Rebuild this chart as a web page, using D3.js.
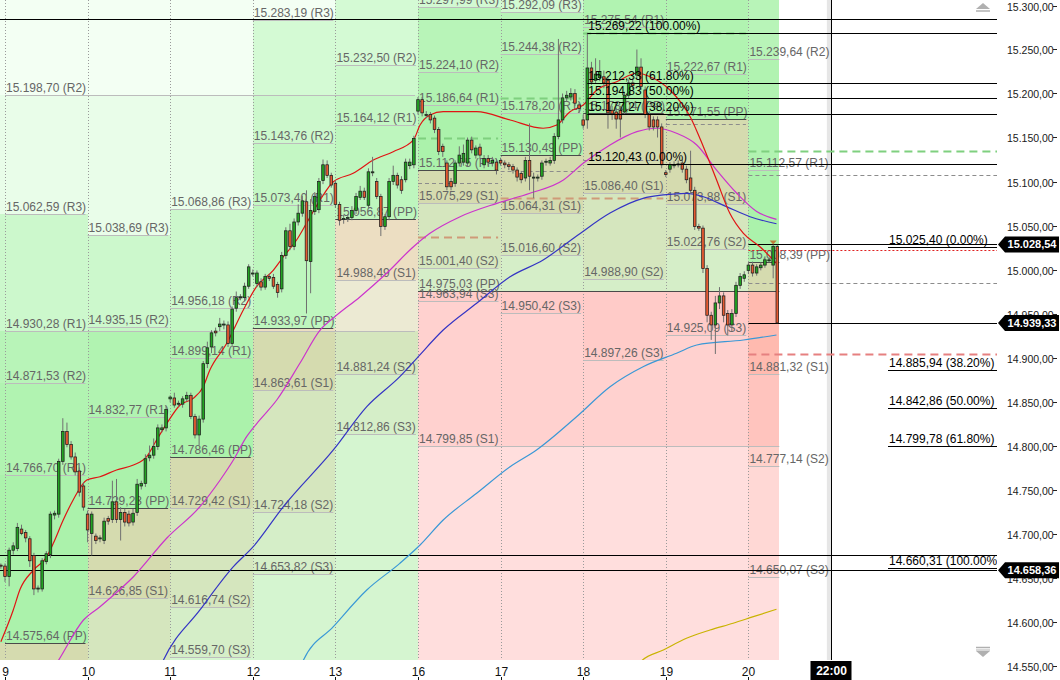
<!DOCTYPE html>
<html><head><meta charset="utf-8">
<script src="https://cdn.jsdelivr.net/npm/d3@7/dist/d3.min.js"></script>
<style>html,body{margin:0;padding:0;background:#fff;overflow:hidden}svg{display:block}text{font-family:"Liberation Sans",Arial,sans-serif}</style>
</head><body>
<svg id="chart" width="1060" height="680"></svg>
<script>
// ---------- DATA ----------
const dayLabels = ["9","10","11","12","13","16","17","18","19","20"];
const dayWeek   = [0,0,0,0,0,1,1,1,1,1];
const dailyPP = [14575.64,14729.23,14786.46,14933.97,15056.87,15112.75,15130.49,15178.04,15171.55,15008.39];
const dailyR1 = [14766.70,14832.77,14899.14,15073.40,15164.12,15186.64,15178.20,15275.54,15222.67,15112.57];
const dailyR2 = [14871.53,14935.15,14956.18,15143.76,15232.50,15224.10,15244.38,15367.18,15320.34,15239.64];
const dailyR3 = [15062.59,15038.69,15068.86,15283.19,15339.75,15297.99,15292.09,15464.66,15371.46,15343.82];
const dailyS1 = [14470.81,14626.85,14729.42,14863.61,14988.49,15075.29,15064.31,15086.40,15073.88,14881.32];
const dailyS2 = [14279.75,14523.31,14616.74,14724.18,14881.24,15001.40,15016.60,14988.90,15022.76,14777.14];
const dailyS3 = [14174.92,14420.93,14559.70,14653.82,14812.86,14963.94,14950.42,14897.26,14925.09,14650.07];

const weekStartDay = [0,5];
const weekEndDay   = [4,9];
const weekPP = [14420.00,14975.03];
const weekR1 = [14930.28,15320.06];
const weekR2 = [15198.70,15495.27];
const weekR3 = [15708.98,15840.45];
const weekS1 = [14141.72,14799.85];
const weekS2 = [13641.30,14454.82];
const weekS3 = [13362.44,14279.64];

// hourly candles [open, high, low, close], first bar index -1
const firstBar = -1;
const candles = [
[14664,14666,14660,14663],
[14663,14666,14645,14651],[14651,14684,14640,14681],[14681,14690,14676,14686],[14683,14712,14680,14707],[14705,14710,14698,14700],
[14701,14704,14690,14695],[14694,14697,14662,14669],[14675,14678,14630,14637],[14637,14641,14633,14638],[14637,14672,14634,14669],
[14668,14680,14665,14677],[14676,14725,14672,14722],[14721,14726,14716,14723],[14722,14785,14718,14782],[14782,14831,14778,14816],
[14816,14826,14798,14801],[14801,14805,14784,14787],[14787,14792,14766,14770],[14771,14775,14742,14747],[14754,14758,14726,14730],
[14722,14726,14690,14704],[14700,14725,14675,14722],[14697,14700,14688,14692],[14695,14698,14690,14695],[14692,14718,14688,14714],
[14717,14720,14710,14714],[14716,14760,14712,14736],[14736,14762,14712,14716],[14716,14730,14692,14724],[14724,14728,14708,14713],
[14722,14726,14708,14712],[14713,14728,14709,14723],[14724,14762,14720,14756],[14754,14760,14750,14757],[14757,14790,14753,14785],
[14786,14800,14782,14789],[14789,14808,14785,14799],[14799,14824,14795,14820],[14818,14824,14815,14820],[14820,14845,14816,14841],
[14853,14857,14849,14855],[14854,14860,14843,14846],[14847,14851,14844,14848],[14847,14856,14843,14853],[14853,14861,14850,14857],
[14857,14860,14830,14833],[14833,14836,14808,14812],[14812,14834,14800,14830],[14830,14896,14826,14893],[14893,14918,14888,14911],
[14912,14931,14905,14928],[14930,14934,14924,14928],[14935,14945,14930,14938],[14937,14942,14932,14938],[14937,14941,14912,14916],
[14916,14958,14912,14955],[14956,14975,14952,14968],[14969,14972,14965,14969],[14968,14985,14964,14981],[14981,15006,14978,15003],
[14996,15000,14992,14996],[14984,14999,14980,14996],[14986,14990,14976,14980],[14980,14995,14977,14992],[14992,14995,14987,14990],
[14991,14995,14978,14981],[14983,14986,14968,14974],[14978,15020,14974,15016],[15016,15048,15012,15044],[15044,15052,15022,15026],
[15026,15058,15022,15054],[15054,15074,15050,15064],[15064,15084,15060,15078],[15077,15090,14950,15010],[15009,15080,14973,15067],
[15066,15088,15062,15083],[15068,15104,15064,15100],[15101,15125,15097,15119],[15119,15124,15104,15107],[15107,15110,15093,15096],
[15098,15101,15070,15074],[15074,15077,15050,15056],[15057,15062,15052,15058],[15058,15063,15054,15059],[15059,15072,15056,15067],
[15067,15087,15063,15083],[15082,15095,15079,15089],[15089,15093,15079,15082],[15073,15115,15070,15111],[15110,15128,15106,15111],
[15100,15104,15080,15083],[15083,15086,15038,15049],[15049,15063,15045,15060],[15060,15104,15056,15100],[15100,15118,15096,15107],
[15107,15110,15092,15096],[15102,15106,15086,15090],[15102,15126,15099,15122],[15118,15126,15114,15122],[15119,15152,15115,15149],
[15180,15196,15176,15193],[15193,15196,15174,15178],[15176,15180,15172,15176],[15176,15179,15166,15170],[15172,15175,15155,15159],
[15159,15162,15130,15134],[15140,15143,15128,15134],[15121,15124,15090,15094],[15100,15104,15090,15094],[15098,15124,15094,15121],
[15121,15140,15117,15130],[15122,15142,15118,15132],[15121,15150,15117,15147],[15147,15151,15132,15136],[15130,15141,15126,15138],
[15139,15143,15126,15130],[15119,15130,15115,15126],[15126,15130,15118,15122],[15121,15128,15117,15124],[15122,15126,15108,15113],
[15124,15127,15118,15121],[15121,15124,15115,15119],[15119,15122,15113,15117],[15117,15120,15109,15113],[15113,15116,15100,15105],
[15109,15112,15098,15102],[15104,15128,15100,15124],[15124,15166,15090,15106],[15105,15110,15081,15105],[15105,15108,15100,15105],
[15106,15124,15102,15121],[15122,15126,15118,15123],[15121,15128,15118,15124],[15124,15155,15120,15151],[15151,15262,15148,15170],
[15170,15200,15166,15195],[15195,15203,15191,15198],[15196,15206,15192,15200],[15200,15205,15186,15189],[15187,15190,15178,15183],
[15170,15176,15160,15164],[15170,15269,15160,15229],[15229,15236,15210,15213],[15215,15240,15212,15222],[15218,15238,15214,15225],
[15219,15226,15206,15212],[15215,15220,15160,15178],[15181,15186,15170,15177],[15179,15184,15160,15171],[15181,15186,15150,15171],
[15179,15202,15176,15198],[15198,15216,15194,15212],[15212,15218,15205,15209],[15221,15250,15217,15230],[15230,15240,15204,15208],
[15204,15208,15172,15176],[15176,15180,15158,15162],[15170,15174,15158,15162],[15170,15174,15150,15162],[15162,15166,15115,15119],
[15110,15113,15105,15108],[15114,15122,15110,15119],[15119,15123,15115,15119],[15120,15124,15116,15120],[15121,15125,15110,15114],
[15114,15118,15098,15102],[15104,15135,15086,15090],[15090,15094,15045,15049],[15049,15052,15044,15047],[15047,15050,14996,15001],
[15001,15005,14940,14948],[14948,14952,14920,14937],[14937,14970,14904,14962],[14962,14980,14955,14970],[14970,14974,14940,14948],
[14950,14954,14925,14937],[14937,14955,14930,14950],[14950,14986,14946,14982],[14982,14996,14978,14992],[14990,14998,14986,14994],
[14999,15008,14995,15005],[15005,15009,14992,14996],[14996,15006,14993,15003],[15002,15008,14999,15005],[15005,15015,15002,15011],
[15011,15014,15008,15011],[15005,15028,14990,15026],[15026,15028,14939,14939.33]
];

// moving averages [bar, value]
const maRed = [[-1,14577],[2,14613],[3.6,14636],[6.9,14658.5],[10.1,14673.6],[11.7,14688.9],[14.1,14715.3],[16.5,14738.1],[19.8,14760.8],[23,14764.5],[27,14772.2],[31.1,14777.8],[34.3,14787.3],[36.7,14806.2],[39.2,14825.2],[42.4,14846],[45.6,14853.6],[48,14866.8],[49.6,14885.8],[53.7,14916.1],[57.7,14954],[60.9,14980.5],[65,14999.4],[67.4,15014.5],[70.6,15033.5],[73,15052.5],[76.3,15079],[79.5,15099.8],[84.3,15109.3],[89.2,15124.4],[94,15133.9],[98.9,15147.2],[100.5,15164.2],[102.9,15175.6],[106.1,15179.3],[114.2,15179.3],[122.3,15169.9],[130.3,15160.5],[133.6,15164.2],[136.8,15179.3],[140,15186.9],[143.3,15204],[148.1,15213.4],[153,15223],[156.2,15219.1],[161,15204],[165.9,15173.6],[169.1,15139.5],[172.3,15101.7],[175.5,15063.9],[178.8,15041.1],[182.8,15025.9],[186.8,15007]];
const maMagenta = [[10,14535],[12.9,14555.5],[19,14601.7],[23,14616.8],[25.4,14626.4],[31.1,14650.9],[39.2,14694.9],[47.2,14730.5],[52.1,14760.8],[55.3,14783.5],[58.5,14810],[61.7,14829],[65.8,14851.7],[71.4,14893.4],[76.3,14931.2],[79.5,14944.9],[86,14969.1],[92.4,14995.7],[98.9,15025.9],[102.9,15041.1],[110.2,15060],[119.1,15075.2],[127.1,15086.6],[135.2,15101.7],[140,15120.7],[146.5,15141.5],[153,15156.6],[157.8,15160.5],[162.6,15154.8],[167.5,15141.5],[172.3,15113],[177.2,15086.6],[182,15066],[186.8,15057]];
const maBlue = [[36,14530],[38.3,14555.5],[47.2,14613.1],[55.3,14662.3],[60.1,14685],[67.4,14730.5],[79.5,14794.9],[87.6,14844.1],[95.6,14878.2],[99.7,14899.1],[106.1,14931.2],[114.2,14961.6],[122.3,14991.8],[130.3,15010.8],[138.4,15038.1],[146.5,15064.2],[154.5,15080.9],[159.4,15084.7],[165,15086.6],[169.1,15082.7],[174.7,15071.4],[180.4,15060],[186.8,15052]];
const maLightBlue = [[70,14530],[72.2,14555.5],[79.5,14594.1],[87.6,14635.8],[95.6,14666.1],[100.5,14686.9],[106.1,14715.3],[114.2,14745.7],[122.3,14775.9],[128.7,14794.9],[138.4,14832.7],[146.5,14866.8],[154.5,14889.5],[162.6,14904.8],[167.5,14914.2],[178.8,14919.9],[186.8,14925.6]];
const maYellow = [[152,14540],[154.2,14555.5],[159.4,14567.6],[165,14580.9],[170.7,14590.3],[176.3,14598],[181.2,14605.5],[186.8,14613.9]];

// dashed reference lines (previous-day high / mid / low)
const refPrice = [15149.8,15098.6,15037.3,15195.2,15112.3,15080.9,15268.8,15124.0,15165.3,15134.7,15107.4,14985.0,14904.0];
const refFrom  = [100,100,100,120,120,120,140,140,160,180,180,180,180];
const refTo    = [119.4,119.4,119.4,139.4,139.4,159.4,179.4,159.4,179.4,241.3,241.3,241.3,241.3];
const refKind  = ["high","mid","low","high","mid","low","high","mid","mid","high","mid","mid","low2"];

// Fibonacci retracements
const fibAPrice = [15269.22,15212.33,15194.83,15177.27,15120.43];
const fibAPct   = ["100.00%","61.80%","50.00%","38.20%","0.00%"];
const fibBPrice = [15025.40,14885.94,14842.86,14799.78,14660.31];
const fibBPct   = ["0.00%","38.20%","50.00%","61.80%","100.00%"];

const hLineFull = [15284.3,14675.2,14658.36];
const hLineToday = [15028.54,14939.33];
const priceBoxes = [15028.54,14939.33,14658.36];
const redDotted = 15022.5;
const yTicks = d3.range(14550,15300.1,50);
const sessionEndLabel = "22:00";

// ---------- CHART ----------
const svg = d3.select("#chart");
const x = d3.scaleLinear().domain([0,180]).range([5,748.4]);
const y = d3.scaleLinear().domain([14550,15300]).range([665.5,5.5]);
const PB = 660, PR = 997;
const loc = d3.formatLocale({decimal:",",thousands:".",grouping:[3],currency:["",""]});
const fmt = loc.format(",.2f");
const lastBar = firstBar + candles.length - 1;
const nDays = dayLabels.length;
const dayX0 = i => i===0 ? 0 : x(i*20);
const dayX1 = i => i===nDays-1 ? x(lastBar)+2 : x((i+1)*20);
const py = v => Math.round(y(v))+0.5;

svg.append("rect").attr("width",1060).attr("height",680).attr("fill","#fff");
svg.append("defs").append("clipPath").attr("id","plot").append("rect")
  .attr("x",0).attr("y",0).attr("width",PR).attr("height",PB);
const g = svg.append("g").attr("clip-path","url(#plot)");

// background zones (daily tint x weekly tint, multiplied)
const dTints = [[255,251,249],[255,244,240],[255,236,228],[255,224,210],[205,248,205],[212,249,212],[220,250,220],[252,255,252]];
const wTints = [[255,244,244],[255,236,236],[255,226,226],[255,212,212],[213,249,213],[236,253,236],[246,255,246],[250,255,250]];
const dLv = i => [dailyS3[i],dailyS2[i],dailyS1[i],dailyPP[i],dailyR1[i],dailyR2[i],dailyR3[i]];
const wLv = w => [weekS3[w],weekS2[w],weekS1[w],weekPP[w],weekR1[w],weekR2[w],weekR3[w]];
const zi = (lv,p) => lv.filter(l=>l<p).length;
for (let i=0;i<nDays;i++){
  const dl = dLv(i), wl = wLv(dayWeek[i]);
  const bps = Array.from(new Set([14300,15500,...dl,...wl])).sort((a,b)=>a-b);
  for (let j=0;j<bps.length-1;j++){
    const a=bps[j], b=bps[j+1], mid=(a+b)/2;
    const t1=dTints[zi(dl,mid)], t2=wTints[zi(wl,mid)];
    const c = d3.rgb(t1[0]*t2[0]/255, t1[1]*t2[1]/255, t1[2]*t2[2]/255);
    const y0 = Math.max(-5,y(b)), y1 = Math.min(PB+5,y(a));
    if (y1<=y0) continue;
    g.append("rect").attr("x",dayX0(i)).attr("width",dayX1(i)-dayX0(i))
      .attr("y",y0).attr("height",y1-y0).attr("fill",c.formatHex()).attr("shape-rendering","crispEdges");
  }
}

// session end marker
g.append("rect").attr("x",x(199)).attr("y",0).attr("width",x(200)-x(199)).attr("height",PB).attr("fill","#e6e6e6");
g.append("line").attr("x1",Math.round(x(200))+0.5).attr("x2",Math.round(x(200))+0.5).attr("y1",0).attr("y2",PB).attr("stroke","#000");

// day separators
for (let i=0;i<nDays;i++){
  const xx = Math.round(x(i*20))+0.5;
  g.append("line").attr("x1",xx).attr("x2",xx).attr("y1",0).attr("y2",PB)
    .attr("stroke","#9a9a9a").attr("stroke-dasharray","1,2");
}

// pivot lines & labels
const names = ["S3","S2","S1","PP","R1","R2","R3"];
const gl = g.append("g");
function pivotSet(levels,x0,x1){
  levels.forEach((v,j)=>{
    const yy = py(v);
    if (yy < -5 || yy > PB+12) return;
    gl.append("line").attr("x1",x0).attr("x2",x1).attr("y1",yy).attr("y2",yy)
      .attr("stroke", names[j]==="PP" ? "#4a4a4a" : "#bcbcbc");
    gl.append("text").attr("x",x0+1).attr("y",yy-3.5).attr("font-size",12).attr("fill","#666")
      .text(`${fmt(v)} (${names[j]})`);
  });
}
weekStartDay.forEach((s,w)=>{
  const x0 = x(s*20), x1 = weekEndDay[w]===nDays-1 ? dayX1(nDays-1) : x((weekEndDay[w]+1)*20)-3;
  pivotSet(wLv(w),x0,x1);
});
for (let i=0;i<nDays;i++){
  const x0 = x(i*20);
  pivotSet(dLv(i),x0,Math.min(x0+80.5,dayX1(i)));
}

// dashed reference lines
const refStyle = {
  high:{c:"#7fd07f",w:2,d:"8,5"}, low:{c:"#cf9a78",w:2,d:"8,5"},
  low2:{c:"#e68080",w:2,d:"8,5"}, mid:{c:"#8c8c8c",w:1,d:"4,3"}
};
refPrice.forEach((p,i)=>{
  const s = refStyle[refKind[i]], yy = py(p);
  g.append("line").attr("x1",x(refFrom[i])).attr("x2",Math.min(PR,x(refTo[i]))).attr("y1",yy).attr("y2",yy)
    .attr("stroke",s.c).attr("stroke-width",s.w).attr("stroke-dasharray",s.d);
});

// horizontal black lines
hLineFull.forEach(p=>{
  g.append("line").attr("x1",0).attr("x2",PR).attr("y1",py(p)).attr("y2",py(p)).attr("stroke","#000");
});
hLineToday.forEach(p=>{
  g.append("line").attr("x1",x(180)).attr("x2",PR).attr("y1",py(p)).attr("y2",py(p)).attr("stroke","#000");
});
g.append("line").attr("x1",x(180)).attr("x2",PR).attr("y1",py(redDotted)).attr("y2",py(redDotted))
  .attr("stroke","#e02020").attr("stroke-dasharray","2,2");

// moving averages
const line = d3.line().x(d=>x(d[0])).y(d=>y(d[1])).curve(d3.curveMonotoneX);
[[maYellow,"#c9b300"],[maLightBlue,"#3a98d6"],[maBlue,"#3434c4"],[maMagenta,"#cc33cc"],[maRed,"#e01414"]].forEach(([d,c])=>{
  g.append("path").attr("d",line(d)).attr("fill","none").attr("stroke",c).attr("stroke-width",1.2);
});

// candles
const gc = g.append("g");
candles.forEach((c,i)=>{
  const k = firstBar+i, cx = x(k);
  const [o,h,l,cl] = c, up = cl>=o;
  gc.append("line").attr("x1",cx).attr("x2",cx).attr("y1",y(h)).attr("y2",y(l)).attr("stroke","#707070").attr("stroke-width",1);
  const top = y(Math.max(o,cl)), hgt = Math.max(1,Math.abs(y(o)-y(cl)));
  gc.append("rect").attr("x",cx-1.3).attr("width",2.6).attr("y",top).attr("height",hgt)
    .attr("fill", up ? "#22a322" : "#e55a32").attr("stroke","#1e1e1e").attr("stroke-width",0.75);
});

// Fibonacci A (drawn from bar 141 to the right edge)
fibAPrice.forEach((p,i)=>{
  const yy = py(p);
  g.append("line").attr("x1",x(141)).attr("x2",PR).attr("y1",yy).attr("y2",yy).attr("stroke","#000");
  g.append("text").attr("x",x(141)+1).attr("y",yy-3.5).attr("font-size",12).attr("fill","#000")
    .text(`${fmt(p)} (${fibAPct[i]})`);
});
// Fibonacci B (labels on the right)
fibBPrice.forEach((p,i)=>{
  const yy = py(p);
  g.append("line").attr("x1",888).attr("x2",PR).attr("y1",yy).attr("y2",yy).attr("stroke","#000");
  g.append("text").attr("x",889).attr("y",yy-3.5).attr("font-size",12).attr("fill","#000")
    .text(`${fmt(p)} (${fibBPct[i]})`);
});

// marker triangle on current bar
g.append("path").attr("d",`M${x(186)-3.5},${y(15033)} L${x(186)+3.5},${y(15033)} L${x(186)},${y(15033)+4} Z`)
  .attr("fill","#c07a3a");

// right axis
const ga = svg.append("g");
yTicks.forEach(v=>{
  const yy = py(v);
  ga.append("text").attr("x",1007).attr("y",yy+4).attr("font-size",10.5).attr("fill","#1a1a1a").text(fmt(v));
  ga.append("line").attr("x1",1053).attr("x2",1057).attr("y1",yy).attr("y2",yy).attr("stroke","#222");
});
priceBoxes.forEach(p=>{
  const cy = y(p);
  ga.append("path").attr("d",`M998,${cy} L1005,${cy-8} L1059,${cy-8} L1059,${cy+8} L1005,${cy+8} Z`).attr("fill","#000");
  ga.append("text").attr("x",1032).attr("y",cy+4).attr("text-anchor","middle").attr("font-size",11)
    .attr("font-weight","bold").attr("fill","#fff").text(fmt(p));
});
// scroll arrows
ga.append("path").attr("d","M976,9 L983,3 L990,9 Z").attr("fill","#b0b0b0");
ga.append("line").attr("x1",976).attr("x2",990).attr("y1",11).attr("y2",11).attr("stroke","#b0b0b0").attr("stroke-width",1.5);
ga.append("line").attr("x1",976).attr("x2",990).attr("y1",647.5).attr("y2",647.5).attr("stroke","#b0b0b0").attr("stroke-width",1.5);
ga.append("line").attr("x1",976).attr("x2",990).attr("y1",650).attr("y2",650).attr("stroke","#b0b0b0").attr("stroke-width",1);
ga.append("path").attr("d","M976,651 L990,651 L983,657 Z").attr("fill","#b0b0b0");

// bottom axis
const gx = svg.append("g");
dayLabels.forEach((d,i)=>{
  const xx = Math.round(x(i*20))+0.5;
  gx.append("text").attr("x",xx).attr("y",676).attr("text-anchor","middle").attr("font-size",12).attr("fill","#111").text(d);
  gx.append("line").attr("x1",xx).attr("x2",xx).attr("y1",677).attr("y2",680).attr("stroke","#111");
});
const xe = Math.round(x(200))+0.5;
gx.append("rect").attr("x",xe-21).attr("y",661).attr("width",41).attr("height",19).attr("fill","#000");
gx.append("text").attr("x",xe).attr("y",675).attr("text-anchor","middle").attr("font-size",12)
  .attr("font-weight","bold").attr("fill","#fff").text(sessionEndLabel);
</script>
</body></html>
